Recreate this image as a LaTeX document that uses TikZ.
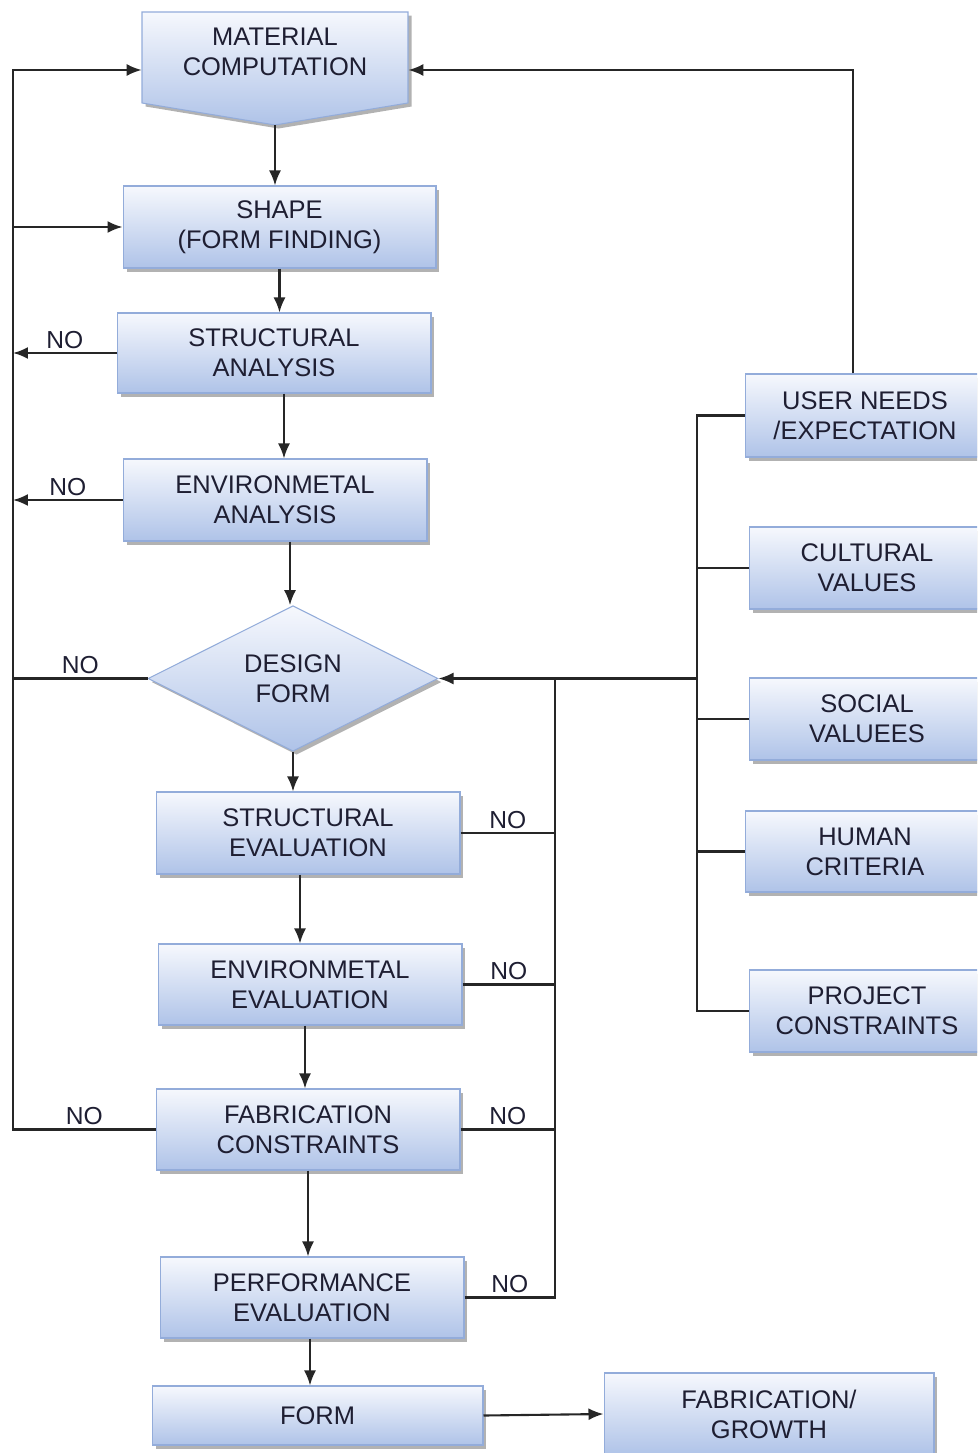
\documentclass[tikz,border=0pt]{standalone}
\usepackage{fontspec}
\setmainfont{Liberation Sans}
\usetikzlibrary{shapes.geometric}
\usetikzlibrary{shadows}
\usetikzlibrary{arrows.meta}
\definecolor{boxtop}{HTML}{F6F8FD}
\definecolor{boxbot}{HTML}{AFC3E8}
\definecolor{boxline}{HTML}{93ACDA}
\definecolor{txt}{HTML}{1E1E32}

\begin{document}
\begin{tikzpicture}[x=0.02cm, y=-0.02cm, >={Latex[length=3mm,width=2.4mm]}]
	\tikzstyle{box}=[draw=boxline, line width=.6pt, top color=boxtop, bottom color=boxbot, drop shadow={shadow xshift=2pt, shadow yshift=-2pt, fill=black!30, opacity=1}]
	\tikzstyle{lbl}=[rectangle, align=center, text=txt, font=\fontsize{14.5}{17}\selectfont, inner sep=0pt]
	\tikzstyle{block}=[box, lbl]
	\tikzstyle{edge}=[draw, line width=1.2pt, black!85]
	\tikzstyle{no}=[above, text=txt, font=\fontsize{14}{16}\selectfont, inner sep=2pt]
	\useasboundingbox (0,0) rectangle (977,1453);
	\clip (0,0) rectangle (977,1453);
	% main column
	\path[box] (142,12) -- (408,12) -- (408,103) -- (275,125) -- (142,103) -- cycle;
	\node[lbl, minimum width=5.32cm, minimum height=1.82cm] (mc) at (275,52) {MATERIAL\\COMPUTATION};
	\coordinate (mctip) at (275,125);
	\node[block, minimum width=6.26cm, minimum height=1.64cm] (sa) at (279.5,227) {SHAPE\\(FORM FINDING)};
	\node[block, minimum width=6.28cm, minimum height=1.60cm] (stra) at (274,353) {STRUCTURAL\\ANALYSIS};
	\node[block, minimum width=6.08cm, minimum height=1.64cm] (enva) at (275,500) {ENVIRONMETAL\\ANALYSIS};
	\node[block, diamond, minimum width=5.8cm, minimum height=2.7cm] (des) at (293,678.5) {DESIGN\\FORM};
	\node[block, minimum width=6.08cm, minimum height=1.64cm] (stre) at (308,833) {STRUCTURAL\\EVALUATION};
	\node[block, minimum width=6.08cm, minimum height=1.62cm] (enve) at (310,984.5) {ENVIRONMETAL\\EVALUATION};
	\node[block, minimum width=6.08cm, minimum height=1.62cm] (fabc) at (308,1129.5) {FABRICATION\\CONSTRAINTS};
	\node[block, minimum width=6.08cm, minimum height=1.62cm] (perf) at (312,1297.5) {PERFORMANCE\\EVALUATION};
	\node[block, minimum width=6.62cm, minimum height=1.18cm] (form) at (317.5,1415.5) {FORM};
	\node[block, minimum width=6.6cm, minimum height=1.64cm] (fabg) at (769,1414) {FABRICATION/\\GROWTH};
	% right column
	\node[block, minimum width=4.8cm, minimum height=1.66cm] (user) at (865,415.5) {USER NEEDS\\/EXPECTATION};
	\node[block, minimum width=4.72cm, minimum height=1.64cm] (cult) at (867,568) {CULTURAL\\VALUES};
	\node[block, minimum width=4.72cm, minimum height=1.64cm] (soc) at (867,719) {SOCIAL\\VALUEES};
	\node[block, minimum width=4.8cm, minimum height=1.62cm] (hum) at (865,851.5) {HUMAN\\CRITERIA};
	\node[block, minimum width=4.72cm, minimum height=1.64cm] (proj) at (867,1011) {PROJECT\\CONSTRAINTS};
	% down the main column
	\draw[edge,->] (mctip) -- (mctip |- sa.north);
	\draw[edge,->] (sa.south) -- (sa.south |- stra.north);
	\draw[edge,->] ([xshift=0.2cm]stra.south) -- ([xshift=0.2cm]stra.south |- enva.north);
	\draw[edge,->] ([xshift=0.3cm]enva.south) -- ([xshift=0.3cm]enva.south |- des.north);
	\draw[edge,->] (des.south) -- (des.south |- stre.north);
	\draw[edge,->] ([xshift=-0.16cm]stre.south) -- ([xshift=-0.16cm]stre.south |- enve.north);
	\draw[edge,->] ([xshift=-0.1cm]enve.south) -- ([xshift=-0.1cm]enve.south |- fabc.north);
	\draw[edge,->] (fabc.south) -- (fabc.south |- perf.north);
	\draw[edge,->] ([xshift=-0.04cm]perf.south) -- ([xshift=-0.04cm]perf.south |- form.north);
	\draw[edge,->] (form.east) -- (fabg.west);
	% left feedback
	\coordinate (lt) at (13,70);
	\coordinate (lb) at (13,1129.5);
	\draw[edge,->] (fabc.west) -- node[no]{NO} (lb) -- (lt) -- (mc.west |- lt);
	\draw[edge,->] (lt |- sa.west) -- (sa.west);
	\draw[edge,->] (stra.west) -- node[no]{NO} (lt |- stra.west);
	\draw[edge,->] (enva.west) -- node[no]{NO} (lt |- enva.west);
	\draw[edge] (des.west) -- node[no]{NO} (lt |- des.west);
	% right feedback
	\coordinate (rv) at (555,678.5);
	\draw[edge] (stre.east) -- node[no]{NO} (rv |- stre.east);
	\draw[edge] (enve.east) -- node[no]{NO} (rv |- enve.east);
	\draw[edge] (fabc.east) -- node[no]{NO} (rv |- fabc.east);
	\draw[edge] (perf.east) -- node[no]{NO} (rv |- perf.east) -- (rv);
	% criteria
	\coordinate (cv) at (697,678.5);
	\draw[edge,->] (cv) -- (des.east);
	\draw[edge] (user.west) -- (cv |- user.west) -- (cv |- proj.west) -- (proj.west);
	\draw[edge] (cv |- cult.west) -- (cult.west);
	\draw[edge] (cv |- soc.west) -- (soc.west);
	\draw[edge] (cv |- hum.west) -- (hum.west);
	\draw[edge,->] ([xshift=-0.24cm]user.north) |- (mc.east |- lt);
\end{tikzpicture}
\end{document}
